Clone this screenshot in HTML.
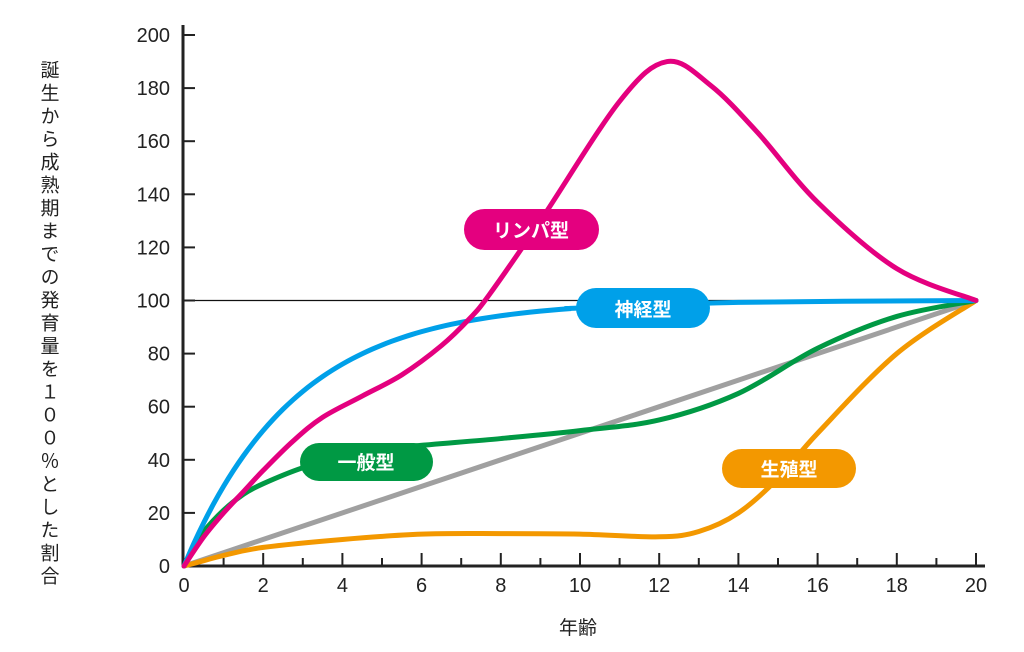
<!DOCTYPE html>
<html><head><meta charset="utf-8"><style>
body{margin:0;background:#fff;width:1024px;height:647px;overflow:hidden;font-family:"Liberation Sans","Noto Sans CJK JP",sans-serif}
</style></head><body>
<svg id="s" width="1024" height="647" xmlns="http://www.w3.org/2000/svg" font-family="Liberation Sans, Noto Sans CJK JP, sans-serif">
<text x="48" y="60" font-size="19" fill="#222" style="writing-mode:vertical-rl;glyph-orientation-vertical:0" letter-spacing="4">誕生から成熟期までの発育量を１００％とした割合</text>
<text x="578" y="634" font-size="19" fill="#222" text-anchor="middle">年齢</text>
<g id="ax"></g>
<g id="curves" fill="none" stroke-width="5" stroke-linecap="round" stroke-linejoin="round"></g>
<g font-size="19" font-weight="bold" fill="#fff" text-anchor="middle">
<rect x="464" y="209" width="135" height="41" rx="20.5" fill="#e4007f"/><text x="531" y="237">リンパ型</text>
<rect x="576" y="288" width="134" height="40" rx="20" fill="#00a0e9"/><text x="643" y="316">神経型</text>
<rect x="300" y="443" width="133" height="38" rx="19" fill="#009944"/><text x="366" y="469">一般型</text>
<rect x="722" y="449" width="134" height="39" rx="19.5" fill="#f39800"/><text x="789" y="476">生殖型</text>
</g>
</svg>
<script>
const NS="http://www.w3.org/2000/svg";
const px=x=>184+39.6*x, py=y=>566-2.655*y;
function el(t,a,p){const e=document.createElementNS(NS,t);for(const k in a)e.setAttribute(k,a[k]);if(p)p.appendChild(e);return e;}
const ax=document.getElementById('ax');
el('line',{x1:184,y1:py(100),x2:px(20),y2:py(100),stroke:'#111','stroke-width':1.3},ax);
el('line',{x1:183,y1:25,x2:183,y2:567,stroke:'#222','stroke-width':3},ax);
el('line',{x1:182,y1:566,x2:985,y2:566,stroke:'#222','stroke-width':3},ax);
for(let v=0;v<=200;v+=20){const y=py(v);if(v>0)el('line',{x1:183,y1:y,x2:195,y2:y,stroke:'#222','stroke-width':2},ax);
 const t=el('text',{x:170,y:y+7,'font-size':20,'text-anchor':'end',fill:'#222'},ax);t.textContent=v;}
for(let i=1;i<=20;i++){const x=px(i);el('line',{x1:x,y1:566,x2:x,y2:i%2?558:553,stroke:'#222','stroke-width':2},ax);}
for(let i=0;i<=20;i+=2){const t=el('text',{x:px(i),y:592,'font-size':20,'text-anchor':'middle',fill:'#222'},ax);t.textContent=i;}
function path(pts){const P=pts.map(p=>[px(p[0]),py(p[1])]);let d='M'+P[0].join(',');
 for(let i=0;i<P.length-1;i++){const p0=P[i-1]||P[i],p1=P[i],p2=P[i+1],p3=P[i+2]||P[i+1];
 const c1=[p1[0]+(p2[0]-p0[0])/6,p1[1]+(p2[1]-p0[1])/6],c2=[p2[0]-(p3[0]-p1[0])/6,p2[1]-(p3[1]-p1[1])/6];
 d+=' C'+c1.join(',')+' '+c2.join(',')+' '+p2.join(',');}return d;}
const g=document.getElementById('curves');
const blue=[];for(let x=0;x<=10;x+=0.25)blue.push([x,100*(1-Math.exp(-x/2.8))]);blue.push([14,99.3],[20,100]);
const S=[
['#a0a0a0',[[0,0],[20,100]]],
['#f39800',[[0,0],[0.5,2],[1,4],[2,7],[4,10],[6,12],[8,12.2],[10,12],[12,11],[13,13],[14,20],[15,33],[16,50],[18,80],[20,100]]],
['#009944',[[0,0],[0.25,7],[0.5,13],[1,21],[1.5,27],[2,31],[3,37],[4,41],[5,44],[8,48],[10,51],[12,55],[14,65],[16,82],[18,94],[20,100]]],
['#00a0e9',blue],
['#e4007f',[[0,0],[0.5,11],[1,20],[1.5,28],[2,36],[2.75,47],[3.5,56],[4.5,64],[5.5,72],[6.5,83],[7.2,93],[7.7,102],[9,130],[11,175],[12.2,190],[13.3,181],[14.5,163],[16,137],[18,112],[20,100]]]];
for(const [c,p] of S)el('path',{d:path(p),stroke:c},g);
</script>
</body></html>
